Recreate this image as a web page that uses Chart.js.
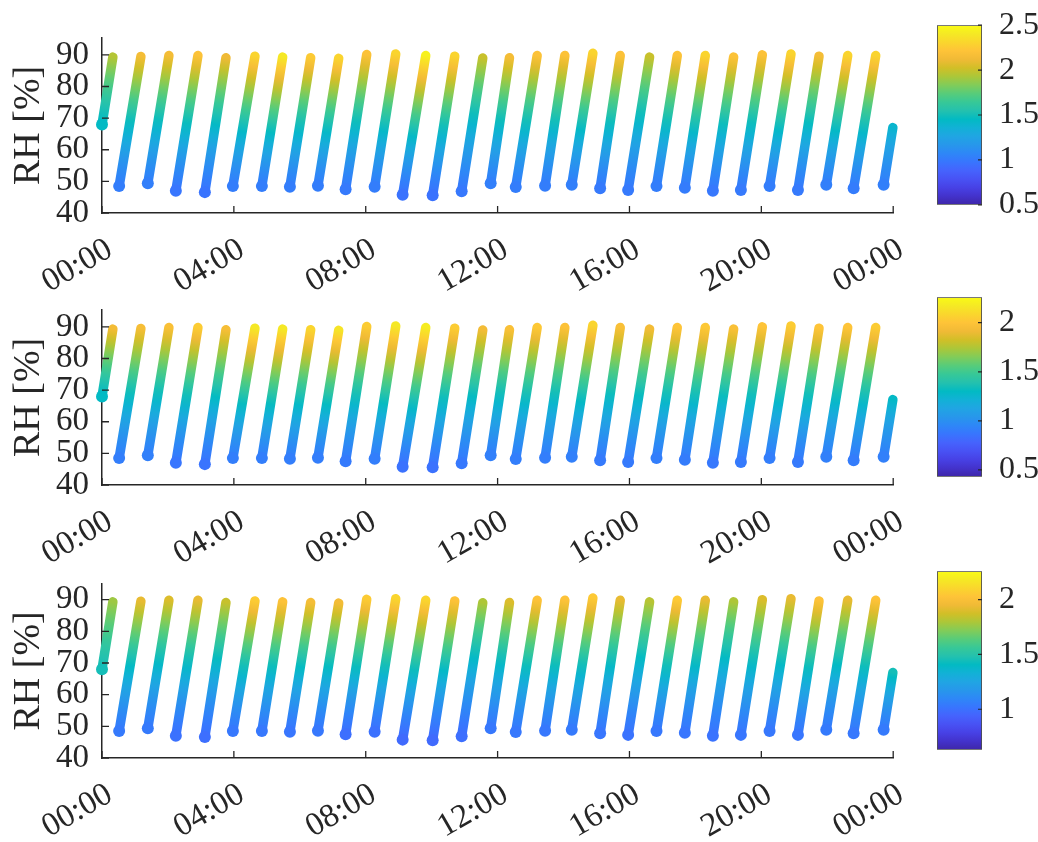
<!DOCTYPE html>
<html>
<head>
<meta charset="utf-8">
<script src="https://cdn.jsdelivr.net/npm/chart.js@4.4.1/dist/chart.umd.min.js"></script>
<style>
  body { margin: 0; background: #fff; width: 1038px; height: 842px; position: relative; overflow: hidden; }
  canvas { position: absolute; }
</style>
</head>
<body>
<script>
// ramps: time in hours (0 = 00:00, 24 = next 00:00), RH in %
const rampStart = [0, 0.52, 1.39, 2.24, 3.12, 3.97, 4.85, 5.70, 6.55, 7.39, 8.27, 9.12, 10.03, 10.91, 11.79,
  12.55, 13.44, 14.25, 15.11, 15.96, 16.82, 17.68, 18.53, 19.38, 20.25, 21.11, 21.97, 22.80, 23.71];
const rampEnd = [0.33, 1.18, 2.03, 2.91, 3.76, 4.64, 5.48, 6.33, 7.18, 8.03, 8.91, 9.82, 10.70, 11.55, 12.36,
  13.20, 14.04, 14.89, 15.72, 16.61, 17.45, 18.30, 19.16, 20.03, 20.90, 21.75, 22.62, 23.47, 23.99];
const rhStart = [68, 48.5, 49.4, 47.0, 46.6, 48.5, 48.5, 48.3, 48.6, 47.5, 48.3, 45.8, 45.6, 46.9, 49.4,
  48.2, 48.6, 48.9, 47.8, 47.3, 48.5, 48.0, 47.0, 47.3, 48.5, 47.3, 48.9, 47.8, 48.9];
const rhEnd = [89.3, 89.5, 89.8, 89.8, 89.1, 89.6, 89.3, 89.1, 88.9, 90.1, 90.3, 89.8, 89.6, 89.0, 89.1,
  89.8, 89.8, 90.5, 89.8, 89.3, 89.8, 89.8, 89.3, 90.0, 90.3, 89.6, 89.8, 89.8, 67];

// colour variable at the low and high end of each ramp, one pair per panel
const colorLow1 = [1.45, 1.02, 1.03, 0.98, 0.97, 1.02, 1.02, 1.02, 1.02, 1.0, 1.02, 0.96, 0.96, 0.99, 1.03,
  1.02, 1.02, 1.03, 1.0, 1.0, 1.02, 1.01, 0.99, 1.0, 1.02, 1.0, 1.03, 1.01, 1.03];
const colorHigh1 = [1.95, 2.15, 2.15, 2.2, 2.12, 2.3, 2.4, 2.25, 2.3, 2.2, 2.3, 2.45, 2.3, 2.0, 2.15,
  2.2, 2.2, 2.3, 2.2, 2.0, 2.2, 2.3, 2.2, 2.2, 2.3, 2.15, 2.3, 2.3, 1.4];
const colorLow2 = [1.30, 0.91, 0.92, 0.87, 0.86, 0.91, 0.91, 0.91, 0.91, 0.89, 0.91, 0.85, 0.85, 0.88, 0.92,
  0.91, 0.91, 0.92, 0.89, 0.89, 0.91, 0.90, 0.88, 0.89, 0.91, 0.89, 0.92, 0.90, 0.92];
const colorHigh2 = [1.93, 1.95, 1.97, 2.04, 1.95, 2.17, 2.17, 2.08, 2.15, 2.04, 2.17, 2.19, 2.04, 1.93, 1.97,
  2.02, 1.99, 2.08, 1.97, 1.93, 2.00, 2.02, 1.97, 2.00, 2.04, 2.00, 2.00, 2.04, 1.29];
const colorLow3 = [1.45, 1.04, 1.04, 1.0, 0.99, 1.03, 1.03, 1.02, 1.03, 0.99, 1.0, 0.97, 0.97, 0.99, 1.03,
  1.03, 1.03, 1.04, 1.02, 1.01, 1.03, 1.02, 1.01, 1.02, 1.03, 1.02, 1.04, 1.03, 1.04];
const colorHigh3 = [1.77, 1.93, 1.90, 1.93, 1.85, 2.06, 2.02, 1.98, 1.97, 2.06, 2.10, 2.10, 2.02, 1.80, 1.90,
  2.02, 2.02, 2.05, 1.93, 1.82, 2.05, 1.93, 1.80, 1.90, 1.93, 2.02, 1.93, 2.02, 1.45];

const colorRange = [[0.5, 2.5], [0.43, 2.26], [0.63, 2.26]];
const colorTicks = [[0.5, 1, 1.5, 2, 2.5], [0.5, 1, 1.5, 2], [1, 1.5, 2]];

const xTickHours = [0, 4, 8, 12, 16, 20, 24];
const xTickLabels = ['00:00', '04:00', '08:00', '12:00', '16:00', '20:00', '00:00'];
const yTicks = [40, 50, 60, 70, 80, 90];
const yMax = [95.4, 95.4, 95.0];

const colorLow = [colorLow1, colorLow2, colorLow3];
const colorHigh = [colorHigh1, colorHigh2, colorHigh3];

// page layout (pixels)
const panelBox = [
  { top: 17, bottom: 213.3 },
  { top: 289.3, bottom: 485.7 },
  { top: 562.7, bottom: 757.3 }
];

const FONT = '"Liberation Serif", "Times New Roman", Times, serif';
const INK = '#262626';

// parula, every third entry of the 64-step map
const parulaStops = [
  [0.2422, 0.1504, 0.6603], [0.2647, 0.1978, 0.7952], [0.2783, 0.2559, 0.8991], [0.2810, 0.3228, 0.9579],
  [0.2699, 0.3892, 0.9906], [0.2206, 0.4603, 0.9973], [0.1786, 0.5289, 0.9682], [0.1540, 0.5902, 0.9218],
  [0.1248, 0.6459, 0.8883], [0.0689, 0.6948, 0.8394], [0.0067, 0.7312, 0.7660], [0.1408, 0.7584, 0.6842],
  [0.2161, 0.7843, 0.5923], [0.3406, 0.8008, 0.4789], [0.5044, 0.7993, 0.3480], [0.6720, 0.7793, 0.2227],
  [0.8203, 0.7498, 0.1535], [0.9393, 0.7288, 0.2100], [0.9970, 0.7659, 0.2199], [0.9786, 0.8386, 0.1766],
  [0.9597, 0.9135, 0.1423], [0.9769, 0.9839, 0.0805]
];

function parula(t){
  t = Math.min(1, Math.max(0, t));
  const n = parulaStops.length - 1;
  const f = t * n;
  const i = Math.min(n - 1, Math.floor(f));
  const u = f - i;
  const a = parulaStops[i], b = parulaStops[i + 1];
  const c = a.map((v, k) => Math.round(255 * (v + (b[k] - v) * u)));
  return 'rgb(' + c[0] + ',' + c[1] + ',' + c[2] + ')';
}

function cmap(v, range){
  return parula((v - range[0]) / (range[1] - range[0]));
}

function rampGradient(ctx, i, c0, c1, range){
  const chart = ctx.chart;
  const xs = chart.scales.x, ys = chart.scales.y;
  if(!chart.chartArea || !xs || !ys) return cmap(c0, range);
  const x0 = xs.getPixelForValue(rampStart[i]), y0 = ys.getPixelForValue(rhStart[i]);
  const x1 = xs.getPixelForValue(rampEnd[i]), y1 = ys.getPixelForValue(rhEnd[i]);
  if(!isFinite(x0 + y0 + x1 + y1)) return cmap(c0, range);
  const g = chart.ctx.createLinearGradient(x0, y0, x1, y1);
  for(let k = 0; k <= 12; k++){
    const s = k / 12;
    g.addColorStop(s, cmap(c0 + (c1 - c0) * Math.pow(s, 1.3), range));
  }
  return g;
}

// tick marks pointing into the axes
const inTicks = {
  id: 'inTicks',
  afterDraw(chart){
    const {ctx, chartArea: a, scales} = chart;
    ctx.save();
    ctx.strokeStyle = INK;
    ctx.lineWidth = 1.3;
    ctx.beginPath();
    scales.y.ticks.forEach(t => {
      const py = scales.y.getPixelForValue(t.value);
      ctx.moveTo(a.left, py); ctx.lineTo(a.left + 7, py);
    });
    scales.x.ticks.forEach(t => {
      const px = scales.x.getPixelForValue(t.value);
      ctx.moveTo(px, a.bottom); ctx.lineTo(px, a.bottom - 7);
    });
    ctx.stroke();
    ctx.restore();
  }
};

const cbTicks = {
  id: 'cbTicks',
  afterDraw(chart){
    const {ctx, chartArea: a, scales} = chart;
    ctx.save();
    ctx.strokeStyle = INK;
    ctx.lineWidth = 1.2;
    ctx.beginPath();
    scales.y.ticks.forEach(t => {
      const py = scales.y.getPixelForValue(t.value);
      ctx.moveTo(a.right - 4, py); ctx.lineTo(a.right, py);
    });
    ctx.stroke();
    ctx.restore();
  }
};

function addCanvas(left, top, w, h){
  const cv = document.createElement('canvas');
  cv.width = w; cv.height = h;
  cv.style.left = left + 'px';
  cv.style.top = top + 'px';
  document.body.appendChild(cv);
  return cv;
}

function makePanel(p){
  const box = panelBox[p];
  const padTop = 12, axisH = 90;
  const cv = addCanvas(0, box.top - padTop, 930, Math.round(padTop + box.bottom - box.top + axisH));
  const lo = colorLow[p], hi = colorHigh[p], range = colorRange[p];

  const datasets = rampStart.map((s, i) => ({
    data: [{x: s, y: rhStart[i]}, {x: rampEnd[i], y: rhEnd[i]}],
    borderWidth: 9.5,
    borderCapStyle: 'round',
    borderColor: ctx => rampGradient(ctx, i, lo[i], hi[i], range),
    pointRadius: [6, 0],
    pointBorderWidth: 0,
    pointBackgroundColor: cmap(lo[i], range),
    clip: false
  }));

  new Chart(cv, {
    type: 'line',
    data: { datasets },
    options: {
      responsive: false,
      animation: false,
      events: [],
      layout: { padding: { top: padTop, right: 36, left: 0, bottom: 0 } },
      plugins: { legend: { display: false }, tooltip: { enabled: false } },
      scales: {
        x: {
          type: 'linear', min: 0, max: 24,
          afterBuildTicks: s => { s.ticks = xTickHours.map(v => ({ value: v })); },
          afterFit: s => { s.height = axisH; },
          grid: { display: true, drawOnChartArea: false, drawTicks: false },
          border: { display: true, color: INK, width: 1.5 },
          ticks: {
            autoSkip: false, minRotation: 30, maxRotation: 30, padding: 17, labelOffset: 8,
            color: INK, font: { family: FONT, size: 33 },
            callback: (v, i) => xTickLabels[i]
          }
        },
        y: {
          min: 40, max: yMax[p],
          afterBuildTicks: s => { s.ticks = yTicks.map(v => ({ value: v })); },
          afterFit: s => { s.width = 102; },
          grid: { display: true, drawOnChartArea: false, drawTicks: false },
          border: { display: true, color: INK, width: 1.5 },
          ticks: { autoSkip: false, padding: 13, color: INK, font: { family: FONT, size: 33 } },
          title: {
            display: true, text: 'RH [%]', color: INK,
            font: { family: FONT, size: 38 }, padding: { top: 6, bottom: 0 }
          }
        }
      }
    },
    plugins: [inTicks]
  });
}

function makeColorbar(p){
  const box = panelBox[p];
  const range = colorRange[p];
  const cv = addCanvas(930, box.top - 20, 108, Math.round(box.bottom - box.top + 40));
  new Chart(cv, {
    type: 'bar',
    data: {
      labels: [''],
      datasets: [{
        data: [[range[0], range[1]]],
        barPercentage: 1, categoryPercentage: 1,
        borderWidth: 1.2, borderColor: '#4d4d4d', borderSkipped: false,
        backgroundColor: ctx => {
          const chart = ctx.chart, ys = chart.scales.y;
          if(!chart.chartArea || !ys) return parula(0.5);
          const y0 = ys.getPixelForValue(range[0]), y1 = ys.getPixelForValue(range[1]);
          if(!isFinite(y0 + y1)) return parula(0.5);
          const g = chart.ctx.createLinearGradient(0, y0, 0, y1);
          const n = parulaStops.length - 1;
          parulaStops.forEach((c, k) => g.addColorStop(k / n, parula(k / n)));
          return g;
        }
      }]
    },
    options: {
      responsive: false,
      animation: false,
      events: [],
      layout: { padding: { left: 7, top: 20, bottom: 20, right: 0 } },
      plugins: { legend: { display: false }, tooltip: { enabled: false } },
      scales: {
        x: { display: false },
        y: {
          position: 'right', min: range[0], max: range[1],
          afterBuildTicks: s => { s.ticks = colorTicks[p].map(v => ({ value: v })); },
          afterFit: s => { s.width = 56; },
          grid: { display: false },
          border: { display: false },
          ticks: { autoSkip: false, padding: 9, color: INK, font: { family: FONT, size: 32 }, callback: v => String(v) }
        }
      }
    },
    plugins: [cbTicks]
  });
}

function drawAll(){
  [0, 1, 2].forEach(p => { makePanel(p); makeColorbar(p); });
}

if(document.fonts && document.fonts.load){
  Promise.all([
    document.fonts.load('33px "Liberation Serif"'),
    document.fonts.load('38px "Liberation Serif"')
  ]).then(drawAll, drawAll);
} else {
  drawAll();
}
</script>
</body>
</html>
